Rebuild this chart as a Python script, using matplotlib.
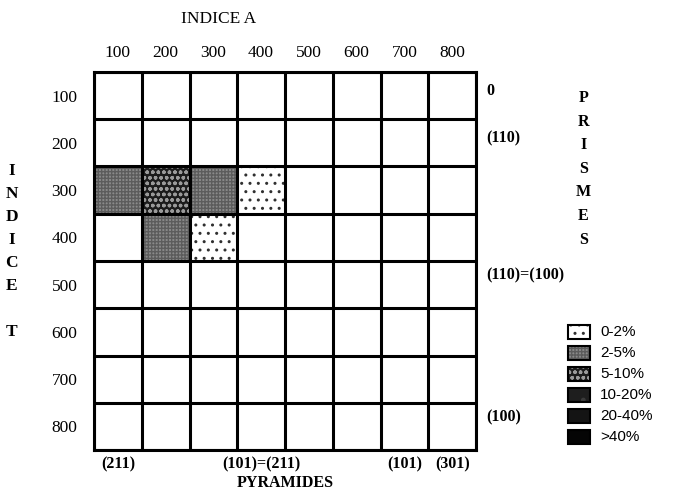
import numpy as np
import matplotlib.pyplot as plt
from matplotlib.patches import Rectangle

plt.rcParams['font.family'] = ['Liberation Serif', 'DejaVu Serif']
plt.rcParams['hatch.linewidth'] = 1.0

# grid indices
col_labels = ['100', '200', '300', '400', '500', '600', '700', '800']
row_labels = ['100', '200', '300', '400', '500', '600', '700', '800']

# class of each cell: -1 = empty, 0 = 0-2%, 1 = 2-5%, 2 = 5-10%, ...
cells = np.full((8, 8), -1)
cells[2, 0] = 1
cells[2, 1] = 2
cells[2, 2] = 1
cells[2, 3] = 0
cells[3, 1] = 1
cells[3, 2] = 0

classes = ['0-2%', '2-5%', '5-10%', '10-20%', '20-40%', '>40%']
# face colour, hatch, hatch colour for each class
styles = [
    ('white', '..', '#303030'),
    ('#8a8a8a', '+++++', '#5c5c5c'),
    ('#1c1c1c', 'ooo', '#9a9a9a'),
    ('#1e1e1e', '.', '#3a3a3a'),
    ('#141414', None, None),
    ('#050505', None, None),
]

right_labels = ['0', '(110)', '(110)=(100)', '(100)']
right_pos = [0.4, 1.4, 4.3, 7.3]
bottom_labels = ['(211)', '(101)=(211)', '(101)', '(301)']
bottom_pos = [0.5, 3.5, 6.5, 7.5]


def patterned(target, xy, w, h, k, transform, lw=0.0):
    face, hatch, hcol = styles[k]
    target.append(Rectangle(xy, w, h, facecolor=face, edgecolor='none',
                            transform=transform))
    if hatch:
        target.append(Rectangle(xy, w, h, fill=False, hatch=hatch,
                                edgecolor=hcol, linewidth=0, transform=transform))
    if lw:
        target.append(Rectangle(xy, w, h, fill=False, edgecolor='black',
                                linewidth=lw, transform=transform))


W, H = 676, 495
fig = plt.figure(figsize=(W / 100, H / 100), dpi=100)
ax = fig.add_axes([94 / W, 45 / H, 382 / W, 378 / H])
ax.set_xlim(0, 8)
ax.set_ylim(8, 0)

shapes = []
for i in range(8):
    for j in range(8):
        if cells[i, j] >= 0:
            patterned(shapes, (j, i), 1, 1, cells[i, j], ax.transData)
for s in shapes:
    ax.add_patch(s)

for v in range(9):
    ax.axhline(v, color='black', lw=2.2)
    ax.axvline(v, color='black', lw=2.2)

ax.set_xticks(np.arange(8) + 0.5)
ax.set_xticklabels(col_labels, fontsize=12.5)
ax.set_yticks(np.arange(8) + 0.5)
ax.set_yticklabels(row_labels, fontsize=12.5)
ax.xaxis.tick_top()
ax.tick_params(length=0, pad=8)
ax.tick_params(axis='y', pad=12)
for s in ax.spines.values():
    s.set_linewidth(2.2)

ax.text(2.6, -1.12, 'INDICE A', ha='center', va='center', fontsize=12.5)

for lab, p in zip(right_labels, right_pos):
    ax.text(8.22, p, lab, ha='left', va='center', fontsize=11.5, fontweight='bold')
for k, ch in enumerate('PRISMES'):
    ax.text(10.25, 0.55 + k * 0.5, ch, ha='center', va='center', fontsize=11.5,
            fontweight='bold')
for k, ch in enumerate('INDICE T'):
    ax.text(-1.72, 2.1 + k * 0.485, ch, ha='center', va='center', fontsize=12.5,
            fontweight='bold')
for lab, p in zip(bottom_labels, bottom_pos):
    ax.text(p, 8.3, lab, ha='center', va='center', fontsize=11.5, fontweight='bold')
ax.text(4.0, 8.7, 'PYRAMIDES', ha='center', va='center', fontsize=11.5,
        fontweight='bold')

# legend boxes, placed in figure pixels
for k, lab in enumerate(classes):
    yc = H - (332 + k * 21)
    box = []
    patterned(box, (568 / W, (yc - 7) / H), 22 / W, 14 / H, k,
              fig.transFigure, lw=1.5)
    fig.patches.extend(box)
    fig.text(600 / W, yc / H, lab, ha='left', va='center', fontsize=11,
             family='Liberation Sans')

fig.savefig('out.png', dpi=100)
